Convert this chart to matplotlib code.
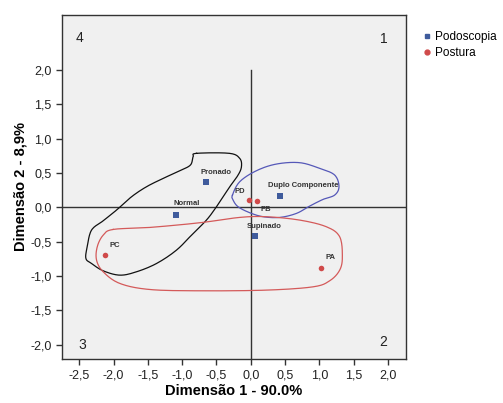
import numpy as np
import matplotlib
matplotlib.use('Agg')
import matplotlib.pyplot as plt
from matplotlib.lines import Line2D

plt.rcParams['font.family'] = ['Liberation Sans', 'DejaVu Sans']

# category points
podo_names = ['Pronado', 'Normal', 'Duplo Componente', 'Supinado']
podo_x = [-0.65, -1.09, 0.42, 0.06]
podo_y = [0.37, -0.11, 0.16, -0.42]

post_names = ['PD', 'PB', 'PC', 'PA']
post_x = [-0.02, 0.09, -2.12, 1.02]
post_y = [0.11, 0.09, -0.69, -0.88]

# hand-drawn group outlines (data coordinates)
black_x = [-0.79, -0.31, -0.16, -0.136, -0.185, -0.306, -0.50, -0.646, -0.84, -1.082,
           -1.373, -1.665, -1.907, -2.15, -2.32, -2.402, -2.383, -2.32, -2.15, -1.956,
           -1.737, -1.519, -1.277, -1.034, -0.879, -0.84]
black_y = [0.785, 0.785, 0.71, 0.59, 0.469, 0.299, 0.007, -0.187, -0.381, -0.624,
           -0.819, -0.94, -0.989, -0.926, -0.819, -0.746, -0.576, -0.333, -0.197, -0.041,
           0.153, 0.299, 0.42, 0.532, 0.615, 0.736]

blue_x = [-0.267, -0.161, 0.082, 0.373, 0.713, 1.004, 1.222, 1.285, 1.222, 1.052,
          0.858, 0.664, 0.422, 0.179, -0.015, -0.185, -0.258]
blue_y = [0.177, 0.372, 0.532, 0.629, 0.649, 0.566, 0.469, 0.299, 0.177, 0.114,
          0.017, -0.090, -0.148, -0.138, -0.080, 0.007, 0.105]

red_x = [-2.004, -1.471, -0.743, -0.161, 0.228, 0.713, 1.101, 1.295, 1.334, 1.295,
         1.149, 0.907, 0.228, -0.743, -1.471, -1.907, -2.15, -2.247, -2.237, -2.15]
red_y = [-0.323, -0.294, -0.226, -0.148, -0.138, -0.187, -0.284, -0.43, -0.721, -0.916,
         -1.071, -1.159, -1.207, -1.217, -1.198, -1.11, -0.94, -0.77, -0.576, -0.406]

ticks = [-2.5, -2.0, -1.5, -1.0, -0.5, 0.0, 0.5, 1.0, 1.5, 2.0]
yticks = [-2.0, -1.5, -1.0, -0.5, 0.0, 0.5, 1.0, 1.5, 2.0]

BLUE = '#3f5b9c'
RED = '#d04a4a'


def closed_spline(xs, ys, n=12):
    # catmull-rom through the outline points, closed
    p = np.column_stack([xs, ys])
    m = len(p)
    out = []
    for i in range(m):
        p0, p1, p2, p3 = p[i - 1], p[i], p[(i + 1) % m], p[(i + 2) % m]
        for t in np.linspace(0, 1, n, endpoint=False):
            t2, t3 = t * t, t * t * t
            out.append(0.5 * (2 * p1 + (-p0 + p2) * t + (2 * p0 - 5 * p1 + 4 * p2 - p3) * t2
                              + (-p0 + 3 * p1 - 3 * p2 + p3) * t3))
    out.append(out[0])
    out = np.array(out)
    return out[:, 0], out[:, 1]


def fmt(v):
    return f'{v:.1f}'.replace('.', ',')


fig = plt.figure(figsize=(5.03, 4.03), dpi=100)
ax = fig.add_axes([0.1233, 0.1092, 0.6837, 0.8536])
ax.set_facecolor('#f0f0f0')
ax.set_xlim(-2.75, 2.26)
ax.set_ylim(-2.21, 2.80)

ax.axhline(0, color='#333333', lw=1.0, zorder=1)
ax.plot([0, 0], [-2.21, 2.0], color='#333333', lw=1.0, zorder=1)

for xs, ys, c in [(black_x, black_y, '#111111'), (blue_x, blue_y, '#5558b8'), (red_x, red_y, '#d45a5a')]:
    sx, sy = closed_spline(xs, ys)
    ax.plot(sx, sy, color=c, lw=0.9, zorder=2)

ax.scatter(podo_x, podo_y, marker='s', s=14, color=BLUE, zorder=3, linewidths=0)
ax.scatter(post_x, post_y, marker='o', s=16, color=RED, zorder=3, linewidths=0)

offsets = {'Pronado': (0.15, 0.13), 'Normal': (0.15, 0.16), 'Duplo Componente': (0.35, 0.15),
           'Supinado': (0.14, 0.14), 'PD': (-0.14, 0.12), 'PB': (0.13, -0.12),
           'PC': (0.14, 0.14), 'PA': (0.14, 0.15)}
for names, xs, ys in [(podo_names, podo_x, podo_y), (post_names, post_x, post_y)]:
    for nm, x, y in zip(names, xs, ys):
        dx, dy = offsets[nm]
        ax.text(x + dx, y + dy, nm, fontsize=5.5, fontweight='bold', color='#333333',
                ha='center', va='center', zorder=4)

for q, x, y in [('4', -2.49, 2.47), ('1', 1.94, 2.45), ('3', -2.46, -2.0), ('2', 1.93, -1.96)]:
    ax.text(x, y, q, fontsize=10, color='#222222', ha='center', va='center')

ax.set_xticks(ticks)
ax.set_xticklabels([fmt(t) for t in ticks])
ax.set_yticks(yticks)
ax.set_yticklabels([fmt(t) for t in yticks])
ax.tick_params(direction='out', length=4, width=1, colors='#333333', labelsize=9,
               labelcolor='#222222')
for s in ax.spines.values():
    s.set_color('#333333')
    s.set_linewidth(1.0)

ax.set_xlabel('Dimensão 1 - 90.0%', fontsize=10.5, fontweight='bold', labelpad=2)
ax.set_ylabel('Dimensão 2 - 8,9%', fontsize=10.5, fontweight='bold', labelpad=2)

handles = [Line2D([], [], marker='s', ls='', color=BLUE, markersize=3.5),
           Line2D([], [], marker='o', ls='', color=RED, markersize=3.5)]
fig.legend(handles, ['Podoscopia', 'Postura'], loc='upper left', bbox_to_anchor=(0.828, 0.935),
           frameon=False, fontsize=8.5, handletextpad=0.15, handlelength=1.0,
           labelspacing=0.35, borderaxespad=0)

fig.savefig('out.png', dpi=100)
